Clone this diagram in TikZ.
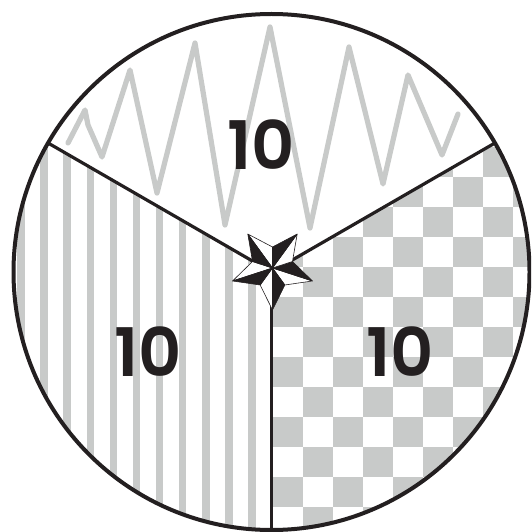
\documentclass[tikz,border=0pt]{standalone}
\usepackage{fontspec}
\newfontfamily\digitfont{Poppins SemiBold}
\usetikzlibrary{calc}
\definecolor{pgray}{RGB}{200,202,201}
\definecolor{pblack}{RGB}{35,31,32}
\tikzset{
  zig/.style={pgray,line width=5.2,line join=round,line cap=round},
  divline/.style={pblack,line width=3.2},
  rim/.style={pblack,line width=4},
  num/.style={inner sep=0,text=pblack,font=\digitfont\fontsize{67}{67}\selectfont},
  starwhite/.style={fill=white,draw=pblack,line width=0.6,line join=round},
  starblack/.style={fill=pblack,draw=pblack,line width=0.6,line join=round}
}
\begin{document}
\begin{tikzpicture}[x=1pt,y=-1pt]
\useasboundingbox (0,0) rectangle (531,532);
\clip (0,0) rectangle (531,532);
\coordinate (C) at (271.5,272);
\def\R{258}
\begin{scope}
  \clip (C) circle[radius=\R];
  % top sector: zigzag
  \begin{scope}
    \clip (C) -- ($(C)+(210:700)$) -- ($(C)+(270:700)$) -- ($(C)+(330:700)$) -- cycle;
    \draw[zig] (68,143) -- (85,110) -- (88,125) -- (102,157) -- (130,70) -- (157,193)
      -- (195,43) -- (225,225) -- (270,27) -- (310,228) -- (349,47) -- (383,184)
      -- (408,75) -- (442,155) -- (458,114);
  \end{scope}
  % left sector: stripes
  \begin{scope}
    \clip (C) -- ($(C)+(90:700)$) -- ($(C)+(150:700)$) -- ($(C)+(210:700)$) -- cycle;
    \foreach \k in {0,...,10} \fill[pgray] ({21+23.1*\k-3.75},0) rectangle ++(7.5,532);
  \end{scope}
  % right sector: checkerboard
  \begin{scope}
    \clip (C) -- ($(C)+(330:700)$) -- ($(C)+(30:700)$) -- ($(C)+(90:700)$) -- cycle;
    \foreach \i in {0,...,8} {
      \foreach \j in {-1,...,12} {
        \pgfmathtruncatemacro\cpar{mod(\i+\j+2,2)}
        \ifnum\cpar=0 \fill[pgray] ({273+30*\i},{177+30*\j}) rectangle ++(30,30); \fi
      }
    }
  \end{scope}
\end{scope}
% numbers
\node[num] (ntop) at (261,145) {10};
\node[num] (nleft) at (148,352) {10};
\node[num] (nright) at (400,352) {10};
% dividing lines
\coordinate (EL) at ($(C)+(210:\R)$);
\coordinate (ER) at ($(C)+(330:\R)$);
\coordinate (EB) at ($(C)+(90:\R)$);
\draw[divline] (C) -- (EL);
\draw[divline] (C) -- (ER);
\draw[divline] (C) -- (EB);
% rim
\draw[rim] (C) circle[radius=\R];
% nautical star
\coordinate (S) at (272.5,268);
\foreach \a in {18,90,162,234,306} {
  \path[starwhite] (S) -- ($(S)+(\a:42)$) -- ($(S)+({\a+36}:21)$) -- cycle;
  \path[starblack] (S) -- ($(S)+(\a:42)$) -- ($(S)+({\a-36}:21)$) -- cycle;
}
\end{tikzpicture}
\end{document}
